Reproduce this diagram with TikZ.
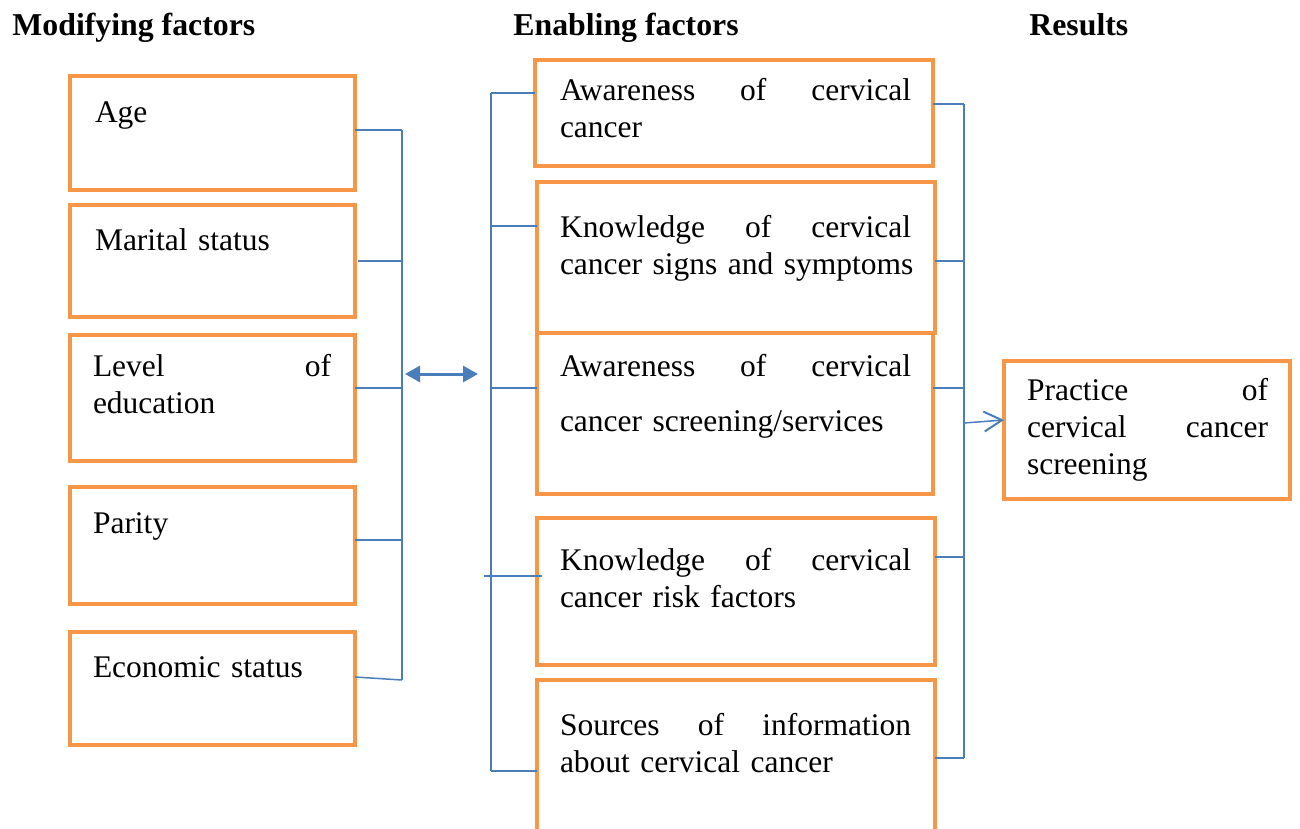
\documentclass[tikz,border=0pt]{standalone}
\usepackage{fontspec}
\setmainfont{Liberation Serif}
\usetikzlibrary{arrows.meta}
\definecolor{boxorange}{HTML}{F79646}
\definecolor{lineblue}{HTML}{4A7EBB}
\newcommand{\jl}[2]{\leavevmode\hbox to #1{#2}}
\tikzset{
  box/.style={draw=boxorange, line width=2pt, rectangle, anchor=north west, outer sep=0pt, inner sep=0pt},
  conn/.style={draw=lineblue, line width=0.75pt},
  txt/.style={anchor=base west, inner sep=0pt, outer sep=0pt, align=left, font=\fontsize{15.75pt}{18.5pt}\selectfont},
  head/.style={anchor=base west, inner sep=0pt, font=\fontsize{15.9pt}{18.5pt}\selectfont\bfseries}
}
\begin{document}
\begin{tikzpicture}[x=0.5pt,y=-0.5pt]
\clip (0,0) rectangle (1300,829);
\fill[white] (0,0) rectangle (1300,829);
% headers
\node[head] (h1) at (12,36) {Modifying factors};
\node[head] (h2) at (513,36) {Enabling factors};
\node[head] (h3) at (1029,36) {Results};
% left boxes
\node[box, minimum width=142.5pt, minimum height=57pt] (age) at (70,76) {};
\node[box, minimum width=142.5pt, minimum height=56pt] (marital) at (70,205) {};
\node[box, minimum width=142.5pt, minimum height=63pt] (level) at (70,335) {};
\node[box, minimum width=142.5pt, minimum height=58.5pt] (parity) at (70,487) {};
\node[box, minimum width=142.5pt, minimum height=56.5pt] (econ) at (70,632) {};
\node[txt, text width=125pt] (tage) at (95,122) {Age};
\node[txt, text width=125pt] (tmar) at (95,250) {Marital status};
\node[txt, text width=125pt] (tlev) at (93,376) {\jl{119pt}{Level\hfill of}\\education};
\node[txt, text width=125pt] (tpar) at (93,533) {Parity};
\node[txt, text width=125pt] (teco) at (93,677) {Economic status};
% middle boxes
\node[box, minimum width=199pt, minimum height=53pt] (b1) at (535,60) {};
\node[box, minimum width=199pt, minimum height=75.5pt] (b2) at (537,182) {};
\node[box, minimum width=198pt, minimum height=80.5pt] (b3) at (537,333) {};
\node[box, minimum width=199pt, minimum height=73.5pt] (b4) at (537,518) {};
\node[box, minimum width=199pt, minimum height=100pt] (b5) at (537,680) {};
\node[txt, text width=185pt] (t1) at (560,101) {\jl{175.5pt}{Awareness\hfill of\hfill cervical}\\cancer};
\node[txt, text width=185pt] (t2) at (560,237) {\jl{175.5pt}{Knowledge\hfill of\hfill cervical}\\\mbox{cancer signs and symptoms}};
\node[txt, text width=185pt] (t3) at (560,376) {\jl{175.5pt}{Awareness\hfill of\hfill cervical}\\[9pt]\mbox{cancer screening/services}};
\node[txt, text width=185pt] (t4) at (560,570) {\jl{175.5pt}{Knowledge\hfill of\hfill cervical}\\cancer risk factors};
\node[txt, text width=185pt] (t5) at (560,735) {\jl{175.5pt}{Sources\hfill of\hfill information}\\\mbox{about cervical cancer}};
% result box
\node[box, minimum width=143pt, minimum height=69pt] (res) at (1004,361) {};
\node[txt, text width=125pt] (tres) at (1027,400) {\jl{120.5pt}{Practice\hfill of}\\\jl{120.5pt}{cervical\hfill cancer}\\screening};
% left bus
\coordinate (lbt) at (402,130);
\coordinate (lbb) at (402,680);
\draw[conn] (lbt) -- (lbb);
\draw[conn] ([yshift=1.5pt]age.east) -- (lbt);
\draw[conn] ([xshift=1.5pt]marital.east) -- (marital.east -| lbt);
\draw[conn] ([yshift=5pt]level.east) -- ([yshift=5pt]level.east -| lbt);
\draw[conn] ([yshift=2.75pt]parity.east) -- ([yshift=2.75pt]parity.east -| lbt);
\draw[conn] ([yshift=5.75pt]econ.east) -- (lbb);
% middle bus
\coordinate (mbt) at (491,93);
\coordinate (mbb) at (491,771);
\draw[conn] (mbt) -- (mbb);
\draw[conn] (mbt) -- ([yshift=10pt]b1.west);
\draw[conn] ([yshift=15.75pt]b2.west -| mbt) -- ([yshift=15.75pt]b2.west);
\draw[conn] ([yshift=12.75pt]b3.west -| mbt) -- ([yshift=12.75pt]b3.west);
\draw[conn] ([yshift=7.75pt,xshift=-3.5pt]b4.west -| mbt) -- ([yshift=7.75pt,xshift=2.5pt]b4.west);
\draw[conn] (mbb) -- ([yshift=4.5pt]b5.west);
% double arrow
\coordinate (da1) at (405,374);
\coordinate (da2) at (478,374);
\draw[draw=lineblue, fill=lineblue, line width=1.5pt, {Triangle[length=7.5pt,width=8pt]}-{Triangle[length=7.5pt,width=8pt]}] (da1) -- (da2);
% right bus
\coordinate (rbt) at (964,104);
\coordinate (rbb) at (964,758);
\draw[conn] (rbt) -- (rbb);
\draw[conn] ([yshift=4.5pt]b1.east) -- (rbt);
\draw[conn] ([yshift=-1.75pt]b2.east) -- ([yshift=-1.75pt]b2.east -| rbt);
\draw[conn] ([yshift=12.75pt]b3.east) -- ([yshift=12.75pt]b3.east -| rbt);
\draw[conn] ([yshift=17.25pt]b4.east) -- ([yshift=17.25pt]b4.east -| rbt);
\draw[conn] ([yshift=11pt]b5.east) -- (rbb);
\coordinate (ra) at (964,423);
\draw[conn, -{Straight Barb[length=9pt,width=10pt,line width=1pt]}] (ra) -- ([yshift=5pt]res.west);
\end{tikzpicture}
\end{document}
